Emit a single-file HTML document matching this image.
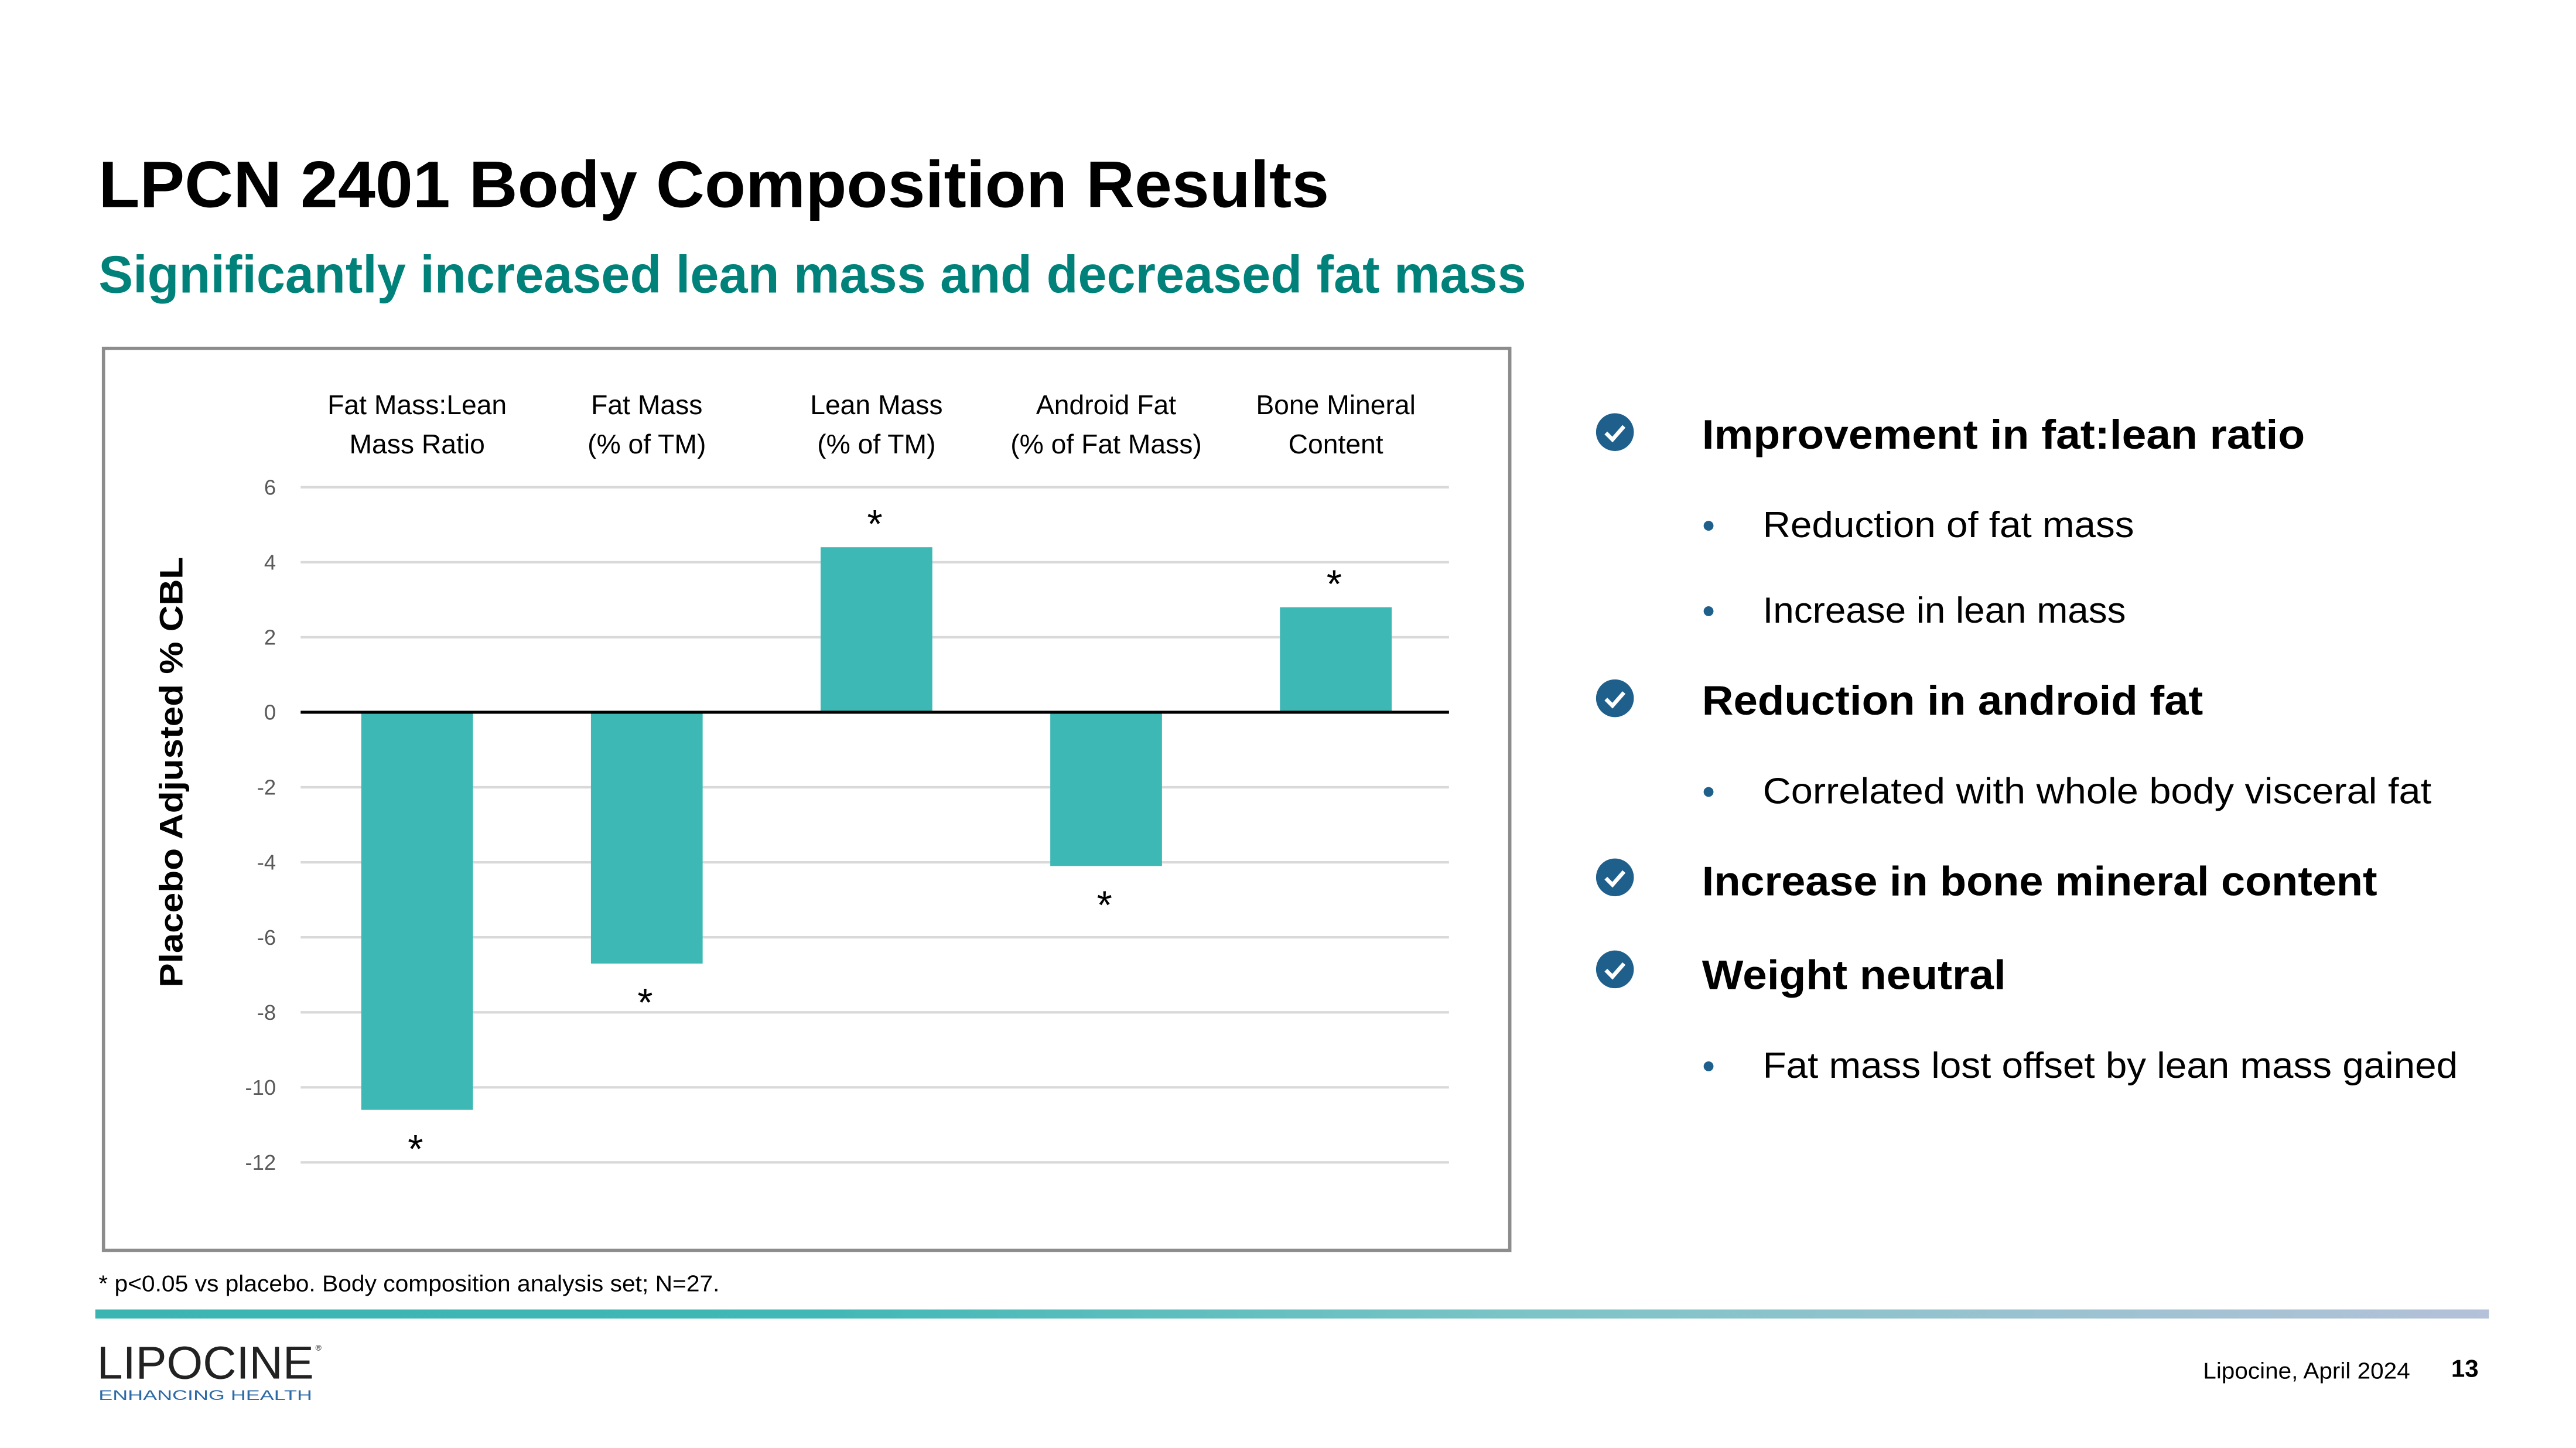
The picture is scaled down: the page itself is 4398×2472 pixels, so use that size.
<!DOCTYPE html>
<html><head><meta charset="utf-8"><style>
html,body{margin:0;padding:0;background:#fff;}
svg{display:block;font-family:"Liberation Sans",sans-serif;}
</style></head><body>
<svg id="page" width="4398" height="2472" viewBox="0 0 1568 881.3" xmlns="http://www.w3.org/2000/svg">
<defs>
<linearGradient id="gb" x1="0" x2="1" y1="0" y2="0">
<stop offset="0" stop-color="#3bb5b2"/><stop offset="0.3" stop-color="#40b8b5"/><stop offset="0.6" stop-color="#7cc4c6"/><stop offset="1" stop-color="#b4c1d8"/>
</linearGradient>
</defs>
<text x="60" y="126" font-size="40" font-weight="bold" fill="#000" textLength="749" lengthAdjust="spacingAndGlyphs">LPCN 2401 Body Composition Results</text>
<text x="60" y="178" font-size="32" font-weight="bold" fill="#00827a" textLength="869" lengthAdjust="spacingAndGlyphs">Significantly increased lean mass and decreased fat mass</text>

<rect x="63" y="212" width="856" height="549" fill="#fff" stroke="#8c8c8c" stroke-width="2"/>
<g id="chart"></g>

<g font-size="25">
<g>
<circle cx="983" cy="263" r="11.5" fill="#1f5f8b"/><path d="M977.5 263.5 l4 4 l7 -8" stroke="#fff" stroke-width="2.4" fill="none"/>
<text x="1036" y="273" font-weight="bold" textLength="367" lengthAdjust="spacingAndGlyphs">Improvement in fat:lean ratio</text></g>
<g><circle cx="1040" cy="320" r="3" fill="#1f5f8b"/>
<text x="1073" y="327" font-size="22" textLength="226" lengthAdjust="spacingAndGlyphs">Reduction of fat mass</text></g>
<g><circle cx="1040" cy="372" r="3" fill="#1f5f8b"/>
<text x="1073" y="379" font-size="22" textLength="221" lengthAdjust="spacingAndGlyphs">Increase in lean mass</text></g>
<g>
<circle cx="983" cy="425" r="11.5" fill="#1f5f8b"/><path d="M977.5 425.5 l4 4 l7 -8" stroke="#fff" stroke-width="2.4" fill="none"/>
<text x="1036" y="435" font-weight="bold" textLength="305" lengthAdjust="spacingAndGlyphs">Reduction in android fat</text></g>
<g><circle cx="1040" cy="482" r="3" fill="#1f5f8b"/>
<text x="1073" y="489" font-size="22" textLength="407" lengthAdjust="spacingAndGlyphs">Correlated with whole body visceral fat</text></g>
<g>
<circle cx="983" cy="534" r="11.5" fill="#1f5f8b"/><path d="M977.5 534.5 l4 4 l7 -8" stroke="#fff" stroke-width="2.4" fill="none"/>
<text x="1036" y="545" font-weight="bold" textLength="411" lengthAdjust="spacingAndGlyphs">Increase in bone mineral content</text></g>
<g>
<circle cx="983" cy="590" r="11.5" fill="#1f5f8b"/><path d="M977.5 590.5 l4 4 l7 -8" stroke="#fff" stroke-width="2.4" fill="none"/>
<text x="1036" y="602" font-weight="bold" textLength="185" lengthAdjust="spacingAndGlyphs">Weight neutral</text></g>
<g><circle cx="1040" cy="649" r="3" fill="#1f5f8b"/>
<text x="1073" y="656" font-size="22" textLength="423" lengthAdjust="spacingAndGlyphs">Fat mass lost offset by lean mass gained</text></g>
</g>

<text x="60" y="786" font-size="14" textLength="378" lengthAdjust="spacingAndGlyphs">* p&lt;0.05 vs placebo. Body composition analysis set; N=27.</text>
<rect x="58" y="797" width="1457" height="5.5" fill="url(#gb)"/>
<g>
<text x="59" y="839" font-size="28" fill="#222" textLength="132" lengthAdjust="spacingAndGlyphs" font-weight="300">LIPOCINE</text>
<text x="192" y="822" font-size="5" fill="#222">®</text>
<text x="60" y="852" font-size="8.5" fill="#2d6aa6" textLength="130" lengthAdjust="spacingAndGlyphs">ENHANCING HEALTH</text>
</g>
<text x="1341" y="839" font-size="14" textLength="126" lengthAdjust="spacingAndGlyphs">Lipocine, April 2024</text>
<text x="1492" y="838" font-size="15" font-weight="bold">13</text>
</svg>
<script>
const categories=[["Fat Mass:Lean","Mass Ratio"],["Fat Mass","(% of TM)"],["Lean Mass","(% of TM)"],["Android Fat","(% of Fat Mass)"],["Bone Mineral","Content"]];
const values=[-10.6,-6.7,4.4,-4.1,2.8];
const significant=[true,true,true,true,true];
const ticks=[6,4,2,0,-2,-4,-6,-8,-10,-12];
const NS="http://www.w3.org/2000/svg";
const g=document.getElementById('chart');
const X0=183,X1=882,ZERO=433.5,UNIT=22.83;
const y=v=>ZERO-v*UNIT;
const step=(X1-X0)/categories.length;
const xc=i=>X0+step*(i+0.5)+1;
function mk(t,a){const e=document.createElementNS(NS,t);for(const k in a)e.setAttribute(k,a[k]);g.appendChild(e);return e;}
ticks.forEach(t=>{
 const l=mk('line',{x1:X0,x2:X1,y1:y(t),y2:y(t),stroke:'#d9d9d9','stroke-width':1.5});
 
 
 const tx=mk('text',{x:168,y:y(t)+4.5,'font-size':13,fill:'#595959','text-anchor':'end'});
 tx.textContent=t;
 
 
});
values.forEach((v,i)=>{
 const w=68;
 const r=mk('rect',{x:xc(i)-w/2,y:Math.min(y(v),y(0)),width:w,height:Math.abs(y(v)-y(0)),fill:'#3eb8b5'});
 
 
 if(significant[i]){
  const ay=v>=0?y(v)-6:y(v)+32;
  const s=mk('text',{x:xc(i)-1,y:ay,'font-size':24,'text-anchor':'middle',fill:'#000'});
  s.textContent='*';
  
  
 }
 categories[i].forEach((line,j)=>{
  const c=mk('text',{x:xc(i),y:252+j*24,'font-size':16.5,'text-anchor':'middle',fill:'#000'});
  c.textContent=line;
  
  
 });
});
const z=mk('line',{x1:X0,x2:X1,y1:y(0),y2:y(0),stroke:'#000','stroke-width':1.8});


const yt=mk('text',{x:0,y:0,'font-size':20,'font-weight':'bold','text-anchor':'middle',transform:'translate(111,470) rotate(-90)',textLength:262,lengthAdjust:'spacingAndGlyphs'});
yt.textContent='Placebo Adjusted % CBL';


</script>
</body></html>
